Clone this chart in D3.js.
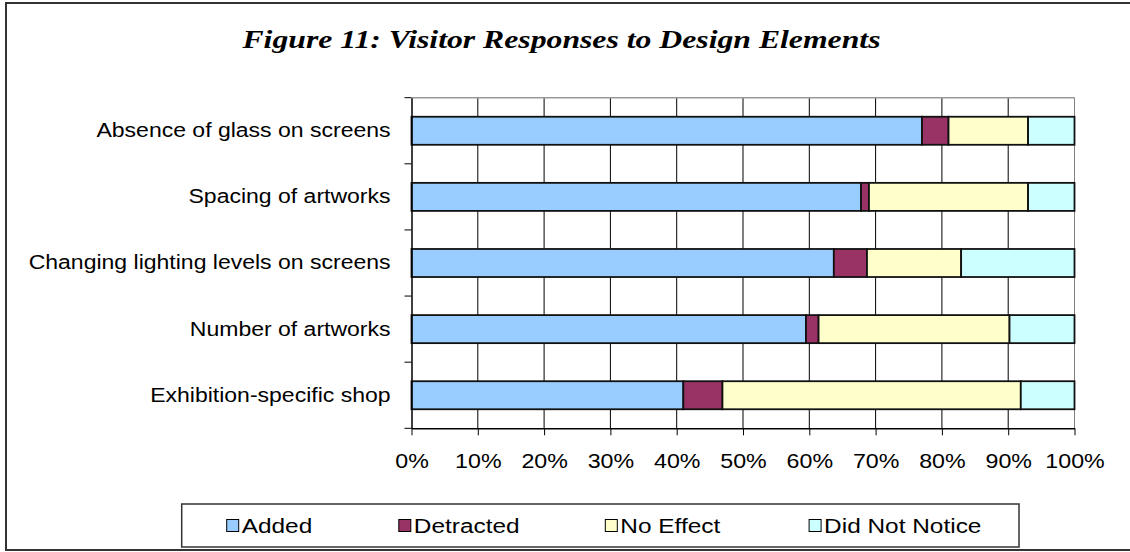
<!DOCTYPE html>
<html>
<head>
<meta charset="utf-8">
<script src="https://cdn.jsdelivr.net/npm/d3@7"></script>
<style>
  body { margin: 0; background: #fff; }
  svg { display: block; }
  text { font-family: "Liberation Sans", Arial, sans-serif; fill: #000; }
</style>
</head>
<body>
<svg width="1130" height="552"></svg>
<script>
// categories, top to bottom
var categories = [
	"Absence of glass on screens",
	"Spacing of artworks",
	"Changing lighting levels on screens",
	"Number of artworks",
	"Exhibition-specific shop"
];

var seriesNames = ["Added", "Detracted", "No Effect", "Did Not Notice"];

// percentages
var added        = [77.0, 67.8, 63.7, 59.5, 41.0];
var detracted    = [ 4.0,  1.2,  5.0,  1.9,  5.9];
var noEffect     = [12.0, 24.0, 14.2, 28.8, 45.0];
var didNotNotice = [ 7.0,  7.0, 17.1,  9.8,  8.1];

var tickValues = [0, 10, 20, 30, 40, 50, 60, 70, 80, 90, 100];

var colors = ["#99CCFF", "#993366", "#FFFFCC", "#CCFFFF"];

// the original is a little stretched sideways, so widen the glyphs
function stretch(sel, k) {
	sel.each(function() {
		var w = this.getComputedTextLength();
		d3.select(this)
			.attr("textLength", w * k)
			.attr("lengthAdjust", "spacingAndGlyphs");
	});
}

var svg = d3.select("svg");

// outer frame (right edge runs off the picture)
svg.append("rect")
		.attr("x", 6)
		.attr("y", 3)
		.attr("width", 1140)
		.attr("height", 547)
		.attr("fill", "none")
		.attr("stroke", "#333")
		.attr("stroke-width", 2);

svg.append("text")
		.attr("x", 561.5)
		.attr("y", 48)
		.attr("text-anchor", "middle")
		.style("font-family", "'Liberation Serif', 'Times New Roman', serif")
		.style("font-weight", "bold")
		.style("font-style", "italic")
		.style("font-size", "26px")
		.text("Figure 11: Visitor Responses to Design Elements")
		.call(stretch, 1.22);

var x = d3.scaleLinear()
		.domain([0, 100])
		.range([411.5, 1074.5]);

var y = d3.scaleBand()
		.domain(categories)
		.range([97.7, 428.3])
		.paddingInner(0.576)
		.paddingOuter(0.288);

// build the stacked table
var table = categories.map(function(c, i) {
	return { cat: c, "Added": added[i], "Detracted": detracted[i], "No Effect": noEffect[i], "Did Not Notice": didNotNotice[i] };
});
var stacked = d3.stack().keys(seriesNames)(table);

var plot = svg.append("g");

// vertical gridlines
plot.selectAll(".grid")
	.data(tickValues.slice(1))
	.enter().append("line")
		.attr("x1", function(d) { return x(d); })
		.attr("x2", function(d) { return x(d); })
		.attr("y1", y.range()[0])
		.attr("y2", y.range()[1])
		.attr("stroke", function(d) { return d == 100 ? "#808080" : "#000"; })
		.attr("stroke-width", 1);

// top border of plot area
plot.append("line")
		.attr("x1", x(0))
		.attr("x2", x(100))
		.attr("y1", y.range()[0])
		.attr("y2", y.range()[0])
		.attr("stroke", "#999")
		.attr("stroke-width", 1.5);

// bars
plot.selectAll(".series")
	.data(stacked)
	.enter().append("g")
		.attr("fill", function(d, i) { return colors[i]; })
	.selectAll("rect")
	.data(function(d) { return d; })
	.enter().append("rect")
		.attr("x", function(d) { return x(d[0]); })
		.attr("width", function(d) { return x(d[1]) - x(d[0]); })
		.attr("y", function(d) { return y(d.data.cat); })
		.attr("height", y.bandwidth())
		.attr("stroke", "#111")
		.attr("stroke-width", 1.8);

// x axis
var xAxis = svg.append("g")
		.attr("transform", "translate(0," + y.range()[1] + ")")
		.call(d3.axisBottom(x)
			.tickValues(tickValues)
			.tickSize(7)
			.tickSizeOuter(0)
			.tickPadding(19)
			.tickFormat(function(d) { return d + "%"; }));
xAxis.select(".domain").attr("stroke", "#000").attr("stroke-width", 1.5);
xAxis.selectAll(".tick line").attr("stroke", "#000");
xAxis.selectAll("text")
		.style("font-family", "'Liberation Sans', Arial, sans-serif")
		.style("font-size", "20px")
		.call(stretch, 1.16);

// y axis: labels centred on bands, ticks on band boundaries
var yAxis = svg.append("g")
		.attr("transform", "translate(" + x(0) + ",0)")
		.call(d3.axisLeft(y).tickSize(0).tickPadding(21));
yAxis.select(".domain").attr("stroke", "#000").attr("stroke-width", 1.5);
yAxis.selectAll("text")
		.style("font-family", "'Liberation Sans', Arial, sans-serif")
		.style("font-size", "20px")
		.call(stretch, 1.15);

var step = y.step();
var bounds = categories.map(function(c) { return y(c) - step * y.paddingInner() / 2; });
bounds.push(y.range()[1]);
yAxis.selectAll(".bound")
	.data(bounds)
	.enter().append("line")
		.attr("x1", -7)
		.attr("x2", 0)
		.attr("y1", function(d) { return d; })
		.attr("y2", function(d) { return d; })
		.attr("stroke", "#000");

// legend
var legendX = [226.7, 398.8, 605.3, 809.1];
var legend = svg.append("g");
legend.append("rect")
		.attr("x", 181.7)
		.attr("y", 504)
		.attr("width", 837.3)
		.attr("height", 43)
		.attr("fill", "#fff")
		.attr("stroke", "#333")
		.attr("stroke-width", 1.5);

var item = legend.selectAll(".item")
	.data(seriesNames)
	.enter().append("g")
		.attr("transform", function(d, i) { return "translate(" + legendX[i] + ",525.5)"; });
item.append("rect")
		.attr("x", 0)
		.attr("y", -6)
		.attr("width", 12)
		.attr("height", 12)
		.attr("fill", function(d, i) { return colors[i]; })
		.attr("stroke", "#000")
		.attr("stroke-width", 1);
item.append("text")
		.attr("x", 15)
		.attr("y", 7.5)
		.style("font-size", "20px")
		.text(function(d) { return d; })
		.call(stretch, 1.22);
</script>
</body>
</html>
